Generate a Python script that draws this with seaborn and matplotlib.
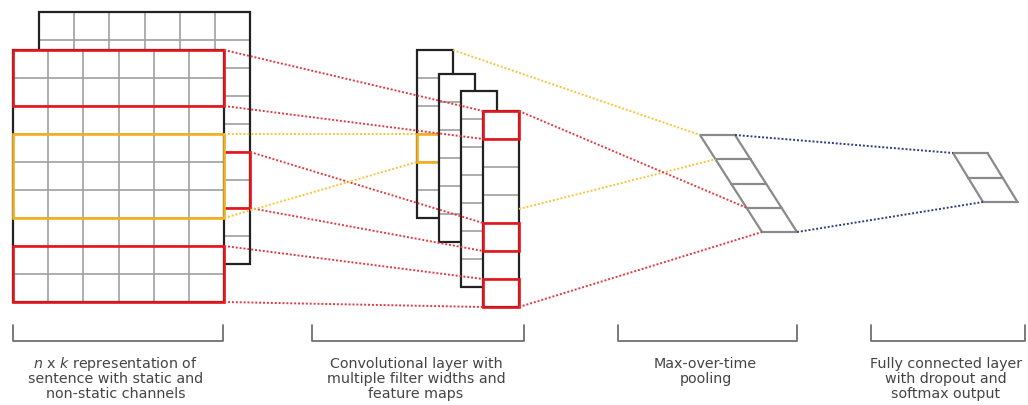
import matplotlib
matplotlib.use("Agg")
import matplotlib.pyplot as plt
from matplotlib.patches import Rectangle
import seaborn as sns

# sentence matrix: n words x k embedding dims, two channels (static / non-static)
n_words = 9
k_dims = 6
front_red_rows = [(0, 2), (7, 2)]    # (first row, rows) of the red filter windows
front_yellow_rows = (3, 3)           # yellow filter window
back_red_rows = (5, 2)               # red window on the back channel

# convolution output
feature_map_lengths = [6, 6, 7, 7]
yellow_map_cell = 3                  # highlighted cell on the first map
red_map_cells = [0, 4, 6]            # highlighted cells on the last map

pooled_size = 4
output_size = 2

captions = [
    ["$n$ x $k$ representation of", "sentence with static and", "non-static channels"],
    ["Convolutional layer with", "multiple filter widths and", "feature maps"],
    ["Max-over-time", "pooling"],
    ["Fully connected layer", "with dropout and", "softmax output"],
]

# layout (pixels)
CELL_W, CELL_H = 35.2, 28
FX0, FY0 = 13, 50
BDX, BDY = 26, -38
MAP_X0 = [417, 439, 461, 483]
MAP_Y0 = [50, 74, 91, 111]
MAP_W = 36
POOL_X0, POOL_Y0, POOL_W, POOL_H, POOL_SHEAR = 700, 135, 35, 97, 62
OUT_X0, OUT_Y0, OUT_W, OUT_H, OUT_SHEAR = 953, 153, 34.5, 49, 30
BRACKETS = [(12.7, 223), (312, 524), (618, 797), (871, 1025)]

BLACK = "#222222"
GRAY = "#a0a0a0"
RED = "#e8141c"
YELLOW = "#f4b01e"
DOT_RED = "#e23a40"
DOT_YELLOW = "#f6c43c"
DOT_BLUE = "#2b3d7c"
TEXT = "#444444"

sns.set_theme(style="white")
plt.rcParams["font.family"] = ["DejaVu Sans"]

fig = plt.figure(figsize=(10.28, 4.05), dpi=100)
ax = fig.add_axes([0, 0, 1, 1])
ax.set_xlim(0, 1028)
ax.set_ylim(405, 0)
ax.axis("off")


def grid(x0, y0, nrows, ncols, cw, ch, z):
    w, h = ncols * cw, nrows * ch
    ax.add_patch(Rectangle((x0, y0), w, h, facecolor="white", edgecolor="none", zorder=z))
    for i in range(1, nrows):
        ax.plot([x0, x0 + w], [y0 + i * ch] * 2, color=GRAY, lw=1.2, zorder=z + 0.1,
                solid_capstyle="butt")
    for j in range(1, ncols):
        ax.plot([x0 + j * cw] * 2, [y0, y0 + h], color=GRAY, lw=1.2, zorder=z + 0.1,
                solid_capstyle="butt")
    ax.add_patch(Rectangle((x0, y0), w, h, fill=False, edgecolor=BLACK, lw=1.6, zorder=z + 0.2))


def box(x0, y0, w, h, color, z):
    ax.add_patch(Rectangle((x0, y0), w, h, fill=False, edgecolor=color, lw=1.9, zorder=z))


def dots(p, q, color):
    ax.plot([p[0], q[0]], [p[1], q[1]], color=color, lw=1.4, linestyle=(0, (1, 1)), zorder=20)


def slanted(x0, y0, w, h, shear, ncells, z):
    for i in range(ncells + 1):
        t = i / ncells
        xl = x0 + shear * t
        ax.plot([xl, xl + w], [y0 + h * t] * 2, color="#8a8a8a", lw=1.6, zorder=z,
                solid_capstyle="round")
    for dx in (0, w):
        ax.plot([x0 + dx, x0 + dx + shear], [y0, y0 + h], color="#8a8a8a", lw=1.6, zorder=z,
                solid_capstyle="round")


# input matrix: back channel, then front channel
bx0, by0 = FX0 + BDX, FY0 + BDY
grid(bx0, by0, n_words, k_dims, CELL_W, CELL_H, 1)
box(bx0 + (k_dims - 1) * CELL_W, by0 + back_red_rows[0] * CELL_H,
    CELL_W, back_red_rows[1] * CELL_H, RED, 1.5)
grid(FX0, FY0, n_words, k_dims, CELL_W, CELL_H, 2)
for r0, nr in front_red_rows:
    box(FX0, FY0 + r0 * CELL_H, k_dims * CELL_W, nr * CELL_H, RED, 3)
box(FX0, FY0 + front_yellow_rows[0] * CELL_H, k_dims * CELL_W,
    front_yellow_rows[1] * CELL_H, YELLOW, 3.1)

# feature maps
for m, length in enumerate(feature_map_lengths):
    grid(MAP_X0[m], MAP_Y0[m], length, 1, MAP_W, CELL_H, 4 + m)
box(MAP_X0[0], MAP_Y0[0] + yellow_map_cell * CELL_H, MAP_W, CELL_H, YELLOW, 4.5)
for c in red_map_cells:
    box(MAP_X0[3], MAP_Y0[3] + c * CELL_H, MAP_W, CELL_H, RED, 8)

# pooling and output layers
slanted(POOL_X0, POOL_Y0, POOL_W, POOL_H, POOL_SHEAR, pooled_size, 5)
slanted(OUT_X0, OUT_Y0, OUT_W, OUT_H, OUT_SHEAR, output_size, 5)

# connections: input -> feature maps
fx = FX0 + k_dims * CELL_W
bx = bx0 + k_dims * CELL_W
last = len(feature_map_lengths) - 1
mx, my = MAP_X0[last], MAP_Y0[last]
for (r0, nr), c in zip(front_red_rows, [red_map_cells[0], red_map_cells[2]]):
    dots((fx, FY0 + r0 * CELL_H), (mx, my + c * CELL_H), DOT_RED)
    dots((fx, FY0 + (r0 + nr) * CELL_H), (mx, my + (c + 1) * CELL_H), DOT_RED)
c = red_map_cells[1]
dots((bx, by0 + back_red_rows[0] * CELL_H), (mx, my + c * CELL_H), DOT_RED)
dots((bx, by0 + sum(back_red_rows) * CELL_H), (mx, my + (c + 1) * CELL_H), DOT_RED)
yr0, ynr = front_yellow_rows
dots((fx, FY0 + yr0 * CELL_H), (MAP_X0[0], MAP_Y0[0] + yellow_map_cell * CELL_H), DOT_YELLOW)
dots((fx, FY0 + (yr0 + ynr) * CELL_H), (MAP_X0[0], MAP_Y0[0] + (yellow_map_cell + 1) * CELL_H),
     DOT_YELLOW)


# connections: feature maps -> pooling
def pool_left(i):
    t = i / pooled_size
    return (POOL_X0 + POOL_SHEAR * t, POOL_Y0 + POOL_H * t)


mr = mx + MAP_W
dots((MAP_X0[0] + MAP_W, MAP_Y0[0]), pool_left(0), DOT_YELLOW)
dots((mr, my + 3.5 * CELL_H), pool_left(1), DOT_YELLOW)
dots((mr, my), pool_left(3), DOT_RED)
dots((mr, my + feature_map_lengths[last] * CELL_H), pool_left(4), DOT_RED)

# connections: pooling -> output
dots((POOL_X0 + POOL_W, POOL_Y0), (OUT_X0, OUT_Y0), DOT_BLUE)
dots((POOL_X0 + POOL_SHEAR + POOL_W, POOL_Y0 + POOL_H), (OUT_X0 + OUT_SHEAR, OUT_Y0 + OUT_H),
     DOT_BLUE)

# brackets and captions
for (x0, x1), lines in zip(BRACKETS, captions):
    ax.plot([x0, x0, x1, x1], [325, 341, 341, 325], color="#707070", lw=1.3, zorder=5)
    cx = (x0 + x1) / 2 - 2
    for i, line in enumerate(lines):
        ax.text(cx, 368 + i * 14.8, line, ha="center", va="baseline", fontsize=10.3,
                color=TEXT)

fig.savefig("out.png", dpi=100, facecolor="white")
